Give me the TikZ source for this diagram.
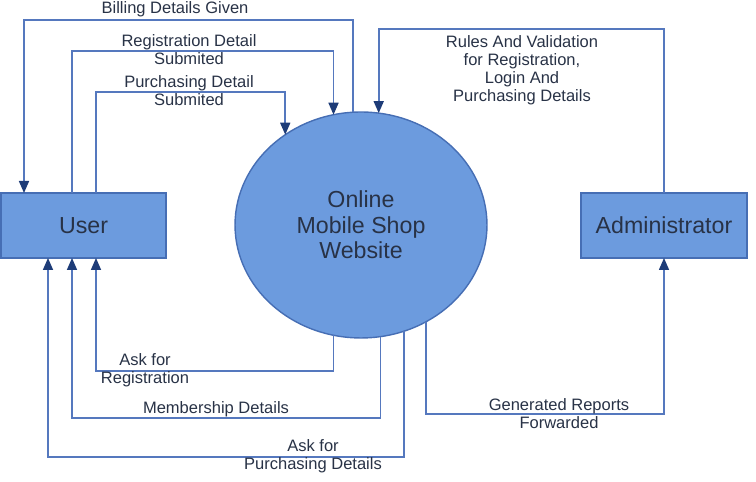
\documentclass[tikz,border=0pt]{standalone}
\usepackage{fontspec}
\setmainfont{Liberation Sans}
\usetikzlibrary{arrows.meta,shapes.geometric}
\definecolor{boxfill}{RGB}{108,155,222}
\definecolor{boxline}{RGB}{70,110,180}
\definecolor{flowline}{RGB}{85,120,190}
\definecolor{tipblue}{RGB}{30,60,120}
\definecolor{txt}{RGB}{40,50,70}
\begin{document}
\begin{tikzpicture}[x=0.02cm,y=0.02cm,font=\fontsize{9.4}{10.2}\selectfont,text=txt,
	entity/.style={draw=boxline,fill=boxfill,line width=0.8pt,inner sep=0pt,outer sep=0pt,font=\fontsize{13.2}{14.5}\selectfont},
	flow/.style={draw=flowline,line width=0.9pt,-{Triangle[length=0.24cm,width=0.2cm,color=tipblue]}},
	lbl/.style={align=center,inner sep=0pt}]
		\useasboundingbox (0,0) rectangle (756,482);
		\node[entity,minimum width=3.3cm,minimum height=1.3cm] (user) at (83.5,256.5) {User};
		\node[entity,minimum width=3.32cm,minimum height=1.3cm] (admin) at (664,256.5) {Administrator};
		\node[entity,ellipse,minimum width=5.04cm,minimum height=4.52cm,align=center] (web) at (361,257) {Online\\Mobile Shop\\Website};
		\path (24,462) coordinate (bill)
			(72,431) coordinate (reg)
			(96,390) coordinate (pur)
			(664,453) coordinate (rules)
			(664,68) coordinate (rep)
			(96,111) coordinate (ask)
			(72,64) coordinate (mem)
			(48,25) coordinate (askp)
			;
		\draw[flow] (web.94) |- (bill) -- (bill |- user.north);
		\draw[flow] (reg |- user.north) -- (reg) -| (web.104);
		\draw[flow] (pur |- user.north) -- (pur) -| (web.130);
		\draw[flow] (admin.north) -- (rules) -| (web.81);
		\draw[flow] (web.304) |- (rep) -- (admin.south);
		\foreach \a/\c in {256/ask,280/mem,292/askp}{\draw[flow] (web.\a) |- (\c) -- (\c |- user.south);}
		\node[lbl] (billtxt) at (175,473) {Billing Details Given};
		\node[lbl] (regtxt) at (189,432.5) {Registration Detail\\Submited};
		\node[lbl] (purtxt) at (189,391) {Purchasing Detail\\Submited};
		\node[lbl] (rulestxt) at (522,412) {Rules And Validation\\for Registration,\\Login And\\Purchasing Details};
		\node[lbl] (reptxt) at (559,68) {Generated Reports\\Forwarded};
		\node[lbl] (asktxt) at (145,111.5) {Ask for\\Registration};
		\node[lbl] (memtxt) at (216,73) {Membership Details};
		\node[lbl] (askptxt) at (313,26) {Ask for\\Purchasing Details};
\end{tikzpicture}
\end{document}
